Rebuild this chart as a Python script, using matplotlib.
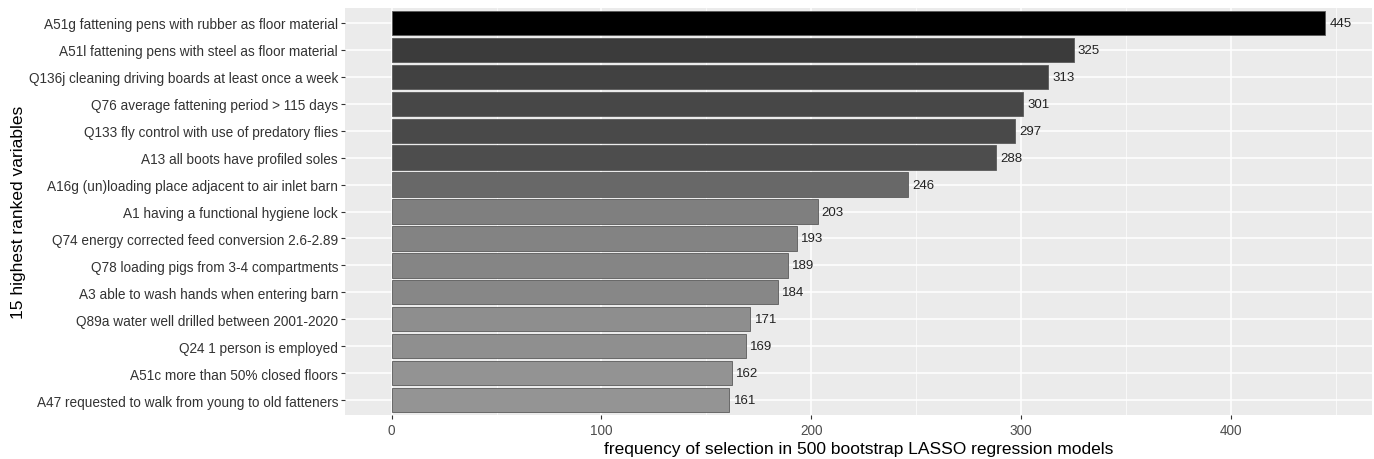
import matplotlib
matplotlib.use("Agg")
import matplotlib.pyplot as plt
import numpy as np

labels = [
    "A51g fattening pens with rubber as floor material",
    "A51l fattening pens with steel as floor material",
    "Q136j cleaning driving boards at least once a week",
    "Q76 average fattening period > 115 days",
    "Q133 fly control with use of predatory flies",
    "A13 all boots have profiled soles",
    "A16g (un)loading place adjacent to air inlet barn",
    "A1 having a functional hygiene lock",
    "Q74 energy corrected feed conversion 2.6-2.89",
    "Q78 loading pigs from 3-4 compartments",
    "A3 able to wash hands when entering barn",
    "Q89a water well drilled between 2001-2020",
    "Q24 1 person is employed",
    "A51c more than 50% closed floors",
    "A47 requested to walk from young to old fatteners",
]
values = [445, 325, 313, 301, 297, 288, 246, 203, 193, 189, 184, 171, 169, 162, 161]
bar_colors = ["#000000", "#3b3b3b", "#414141", "#474747", "#494949", "#4d4d4d",
              "#686868", "#7f7f7f", "#838383", "#858585", "#878787", "#8e8e8e",
              "#8f8f8f", "#939393", "#949494"]
xticks = [0, 100, 200, 300, 400]

plt.rcParams['font.family'] = ['Liberation Sans', 'DejaVu Sans']
fig = plt.figure(figsize=(13.74, 4.60), dpi=100)
ax = fig.add_axes([345/1374, 1-416/460, (1372-345)/1374, (416-9)/460])
ax.set_facecolor("#ebebeb")

n = len(values)
ypos = np.arange(n)[::-1]
ax.barh(ypos, values, height=0.9, color=bar_colors, edgecolor="#5a5a5a", linewidth=0.6, zorder=3)
for y, v in zip(ypos, values):
    ax.text(v + 2, y, str(v), va="center", ha="left", fontsize=9.5, color="#222222", zorder=4)

xmax = max(values)
ax.set_xlim(-0.05*xmax, 1.05*xmax)
ax.set_ylim(-0.55, n - 0.45)
ax.set_xticks(xticks)
ax.set_xticks([50, 150, 250, 350, 450], minor=True)
ax.set_yticks(ypos)
ax.set_yticklabels(labels)
ax.grid(True, which="major", color="white", linewidth=1.1, zorder=0)
ax.grid(True, which="minor", axis="x", color="white", linewidth=0.5, zorder=0)
for s in ax.spines.values():
    s.set_visible(False)
ax.tick_params(axis="y", which="major", length=3, color="#333333", labelsize=9.8, labelcolor="#333333", pad=2)
ax.tick_params(axis="x", which="major", length=3, color="#333333", labelsize=9.8, labelcolor="#4d4d4d", pad=3)
ax.tick_params(axis="both", which="minor", length=0)
ax.set_xlabel("frequency of selection in 500 bootstrap LASSO regression models", fontsize=12.5, color="black", labelpad=3)
ax.set_ylabel("15 highest ranked variables", fontsize=12.5, color="black", labelpad=2)
fig.savefig("out.png", dpi=100)
